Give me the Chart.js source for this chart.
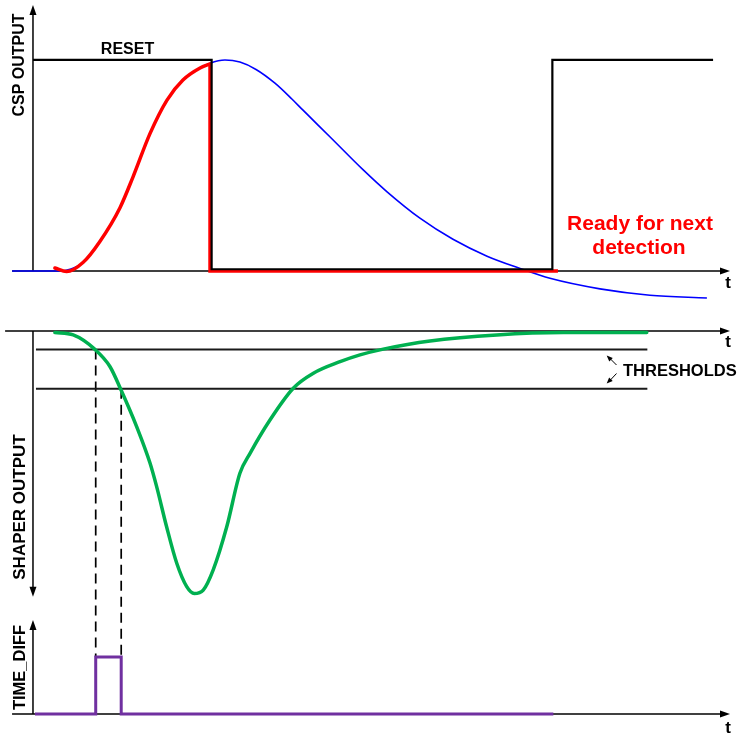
<!DOCTYPE html>
<html>
<head>
<meta charset="utf-8">
<script src="https://cdn.jsdelivr.net/npm/chart.js@4.4.1/dist/chart.umd.min.js"></script>
<style>
  html, body { margin: 0; padding: 0; background: #fff; }
  canvas { display: block; }
</style>
</head>
<body>
<canvas id="pulseChart" width="738" height="738"></canvas>
<script>
// shared time axis (arbitrary units)
const timeMin = -1.4;
const timeMax = 35;

// CSP output, free response
const cspTime  = [-1.05, 1.36, 1.86, 2.51, 3.36, 4.37, 5.02, 5.88, 6.73, 7.53, 8.39, 8.89, 9.64, 10.39, 11.2, 12.15, 13.0, 13.56, 14.92, 16.57, 17.78, 19.43, 21.09, 22.80, 24.46, 25.96, 28.47, 30.98, 33.84];
const cspValue = [0, 0, 0.008, 0.04, 0.14, 0.3, 0.445, 0.652, 0.81, 0.905, 0.962, 0.985, 1.0, 0.99, 0.955, 0.89, 0.815, 0.762, 0.635, 0.48, 0.375, 0.25, 0.15, 0.07, 0.012, -0.035, -0.085, -0.115, -0.128];

// CSP output with reset applied
const riseTime  = [1.10, 1.69, 2.51, 3.36, 4.37, 5.02, 5.88, 6.73, 7.53, 8.39, 8.89];
const riseValue = [0.014, -0.003, 0.04, 0.14, 0.3, 0.445, 0.652, 0.81, 0.905, 0.962, 0.981];
const clampTime  = [8.89, 8.89, 26.36];
const clampValue = [0.981, 0, 0];

// RESET signal
const resetTime  = [0, 8.97, 8.97, 26.08, 26.08, 34.15];
const resetValue = [1, 1, 0.008, 0.008, 1, 1];

// shaper output
const shaperTime  = [1.10, 2.02, 3.11, 3.87, 4.40, 5.21, 5.88, 6.21, 6.71, 7.22, 7.72, 8.10, 8.55, 9.05, 9.73, 10.39, 10.90, 11.90, 13.07, 14.08, 15.42, 16.42, 17.59, 19.94, 23.29, 26.63, 30.82];
const shaperValue = [-0.006, -0.015, -0.07, -0.136, -0.221, -0.365, -0.504, -0.593, -0.746, -0.885, -0.974, -1.0, -0.987, -0.91, -0.746, -0.542, -0.466, -0.339, -0.218, -0.161, -0.117, -0.091, -0.069, -0.038, -0.015, -0.006, -0.006];
const thresholds = [-0.07, -0.22];
const thresholdSpan = [0.15, 30.85];

// threshold crossings -> TIME_DIFF pulse
const crossTime = [3.15, 4.43];
const diffTime  = [0.1, crossTime[0], crossTime[0], crossTime[1], crossTime[1], 26.13];
const diffValue = [0, 0, 1, 1, 0, 0];

const pts = (xs, ys) => xs.map((x, i) => ({ x: x, y: ys[i] }));

// pixel bands of the three stacked panels
const bands = {
  x: [5.1, 730],
  yCsp: [3, 302.6],
  yShaper: [317.9, 606.6],
  yDiff: [617.1, 731.1]
};

const placeScales = {
  id: 'placeScales',
  afterLayout(chart) {
    for (const id in bands) {
      const s = chart.scales[id];
      if (s.isHorizontal()) {
        s.left = bands[id][0];
        s.right = bands[id][1];
        s.width = s.right - s.left;
      } else {
        s.top = bands[id][0];
        s.bottom = bands[id][1];
        s.height = s.bottom - s.top;
      }
      s.configure();
    }
  }
};

const FONT = '"Liberation Sans", Arial, sans-serif';

function arrowHead(ctx, x, y, angle, len, half) {
  ctx.save();
  ctx.translate(x, y);
  ctx.rotate(angle);
  ctx.beginPath();
  ctx.moveTo(0, 0);
  ctx.lineTo(-len, -half);
  ctx.lineTo(-len, half);
  ctx.closePath();
  ctx.fill();
  ctx.restore();
}

function line(ctx, x1, y1, x2, y2) {
  ctx.beginPath();
  ctx.moveTo(x1, y1);
  ctx.lineTo(x2, y2);
  ctx.stroke();
}

function vText(ctx, text, x, y, size) {
  ctx.save();
  ctx.translate(x, y);
  ctx.rotate(-Math.PI / 2);
  ctx.font = 'bold ' + size + 'px ' + FONT;
  ctx.textAlign = 'center';
  ctx.textBaseline = 'middle';
  ctx.fillText(text, 0, 0);
  ctx.restore();
}

const axesAndGuides = {
  id: 'axesAndGuides',
  beforeDatasetsDraw(chart) {
    const { ctx } = chart;
    const x = chart.scales.x;
    const yc = chart.scales.yCsp, ys = chart.scales.yShaper, yd = chart.scales.yDiff;
    const x0 = x.getPixelForValue(0);
    const xEnd = x.getPixelForValue(timeMax);
    ctx.save();
    ctx.strokeStyle = '#000';
    ctx.fillStyle = '#000';
    ctx.lineWidth = 1.5;

    // CSP panel axes
    let yb = yc.getPixelForValue(0);
    line(ctx, x.getPixelForValue(-1.05), yb, xEnd - 6, yb);
    arrowHead(ctx, xEnd, yb, 0, 10, 3.5);
    let yt = yc.getPixelForValue(1.26);
    line(ctx, x0, yb, x0, yt + 6);
    arrowHead(ctx, x0, yt, -Math.PI / 2, 10, 3.5);

    // shaper panel axes (amplitude axis points down)
    yb = ys.getPixelForValue(0);
    line(ctx, x.getPixelForValue(-1.4), yb, xEnd - 6, yb);
    arrowHead(ctx, xEnd, yb, 0, 10, 3.5);
    yt = ys.getPixelForValue(-1.012);
    line(ctx, x0, yb, x0, yt - 6);
    arrowHead(ctx, x0, yt, Math.PI / 2, 10, 3.5);

    // TIME_DIFF panel axes
    yb = yd.getPixelForValue(0);
    line(ctx, x.getPixelForValue(-1.05), yb, xEnd - 6, yb);
    arrowHead(ctx, xEnd, yb, 0, 10, 3.5);
    yt = yd.getPixelForValue(1.65);
    line(ctx, x0, yb, x0, yt + 6);
    arrowHead(ctx, x0, yt, -Math.PI / 2, 10, 3.5);

    // dashed drops from the threshold crossings to the pulse edges
    ctx.lineWidth = 1.7;
    ctx.setLineDash([10, 6]);
    crossTime.forEach((t, i) => {
      const px = x.getPixelForValue(t);
      line(ctx, px, ys.getPixelForValue(thresholds[i]), px, yd.getPixelForValue(1));
    });
    ctx.restore();
  },
  afterDatasetsDraw(chart) {
    const { ctx } = chart;
    ctx.save();
    ctx.fillStyle = '#000';
    ctx.strokeStyle = '#000';
    ctx.textAlign = 'center';
    ctx.textBaseline = 'alphabetic';

    ctx.font = 'bold 16px ' + FONT;
    ctx.fillText('RESET', 127.5, 53.5);
    ctx.font = 'bold 17px ' + FONT;
    ctx.fillText('t', 728, 288);
    ctx.fillText('t', 728, 347);
    ctx.fillText('t', 728, 732.5);

    vText(ctx, 'CSP OUTPUT', 20, 65, 16);
    vText(ctx, 'SHAPER OUTPUT', 20, 507, 17);
    vText(ctx, 'TIME_DIFF', 20, 667.5, 16.5);

    ctx.textAlign = 'left';
    ctx.font = 'bold 16.5px ' + FONT;
    ctx.fillText('THRESHOLDS', 623, 376);

    // pointers to the two threshold lines
    ctx.lineWidth = 1;
    line(ctx, 616.5, 365, 609, 357.5);
    arrowHead(ctx, 606.7, 355.5, Math.atan2(-9.5, -9.8), 6, 2.5);
    line(ctx, 616.5, 373.5, 609, 381.5);
    arrowHead(ctx, 606.7, 383.5, Math.atan2(10, -9.8), 6, 2.5);

    ctx.fillStyle = '#ff0000';
    ctx.textAlign = 'center';
    ctx.font = 'bold 21px ' + FONT;
    ctx.fillText('Ready for next', 640, 230);
    ctx.fillText('detection', 639, 254);
    ctx.restore();
  }
};

const smooth = { tension: 0.4, cubicInterpolationMode: 'monotone', pointRadius: 0, clip: false };
const steps = { tension: 0, pointRadius: 0, clip: false, borderJoinStyle: 'miter', borderCapStyle: 'butt' };

new Chart(document.getElementById('pulseChart'), {
  type: 'line',
  data: {
    datasets: [
      Object.assign({ label: 'RESET', data: pts(resetTime, resetValue), yAxisID: 'yCsp',
        borderColor: '#000000', borderWidth: 2.2, order: 0 }, steps),
      Object.assign({ label: 'Reset clamp', data: pts(clampTime, clampValue), yAxisID: 'yCsp',
        borderColor: '#ff0000', borderWidth: 3.5, order: 1 }, steps),
      Object.assign({ label: 'CSP reset', data: pts(riseTime, riseValue), yAxisID: 'yCsp',
        borderColor: '#ff0000', borderWidth: 3.5, borderCapStyle: 'round', order: 1 }, smooth),
      Object.assign({ label: 'CSP output', data: pts(cspTime, cspValue), yAxisID: 'yCsp',
        borderColor: '#0000ff', borderWidth: 1.6, order: 2 }, smooth),
      Object.assign({ label: 'Threshold 1', data: pts(thresholdSpan, [thresholds[0], thresholds[0]]), yAxisID: 'yShaper',
        borderColor: '#1a1a1a', borderWidth: 2, order: 3 }, steps),
      Object.assign({ label: 'Threshold 2', data: pts(thresholdSpan, [thresholds[1], thresholds[1]]), yAxisID: 'yShaper',
        borderColor: '#1a1a1a', borderWidth: 2, order: 3 }, steps),
      Object.assign({ label: 'Shaper output', data: pts(shaperTime, shaperValue), yAxisID: 'yShaper',
        borderColor: '#00b050', borderWidth: 3.5, borderCapStyle: 'round', order: 2 }, smooth),
      Object.assign({ label: 'TIME_DIFF', data: pts(diffTime, diffValue), yAxisID: 'yDiff',
        borderColor: '#7030a0', borderWidth: 3, order: 1 }, steps)
    ]
  },
  options: {
    responsive: false,
    animation: false,
    devicePixelRatio: 1,
    events: [],
    layout: { padding: 0 },
    plugins: { legend: { display: false }, tooltip: { enabled: false } },
    scales: {
      x: { type: 'linear', min: timeMin, max: timeMax, display: false },
      yCsp: { type: 'linear', position: 'left', min: -0.15, max: 1.27, display: false },
      yShaper: { type: 'linear', position: 'left', min: -1.05, max: 0.05, display: false },
      yDiff: { type: 'linear', position: 'left', min: -0.3, max: 1.7, display: false }
    }
  },
  plugins: [placeScales, axesAndGuides]
});
</script>
</body>
</html>
